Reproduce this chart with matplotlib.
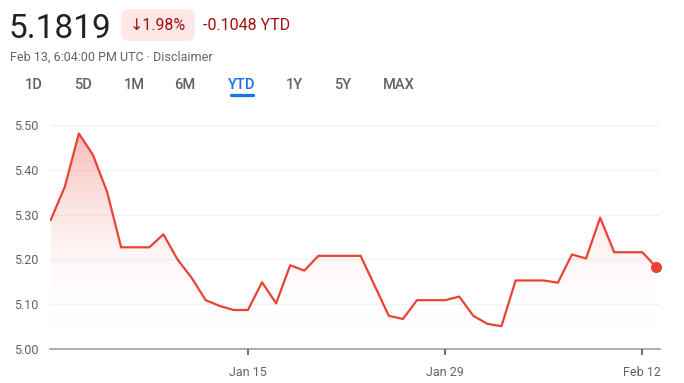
import numpy as np
import pandas as pd
import matplotlib
matplotlib.use("Agg")
import matplotlib.pyplot as plt
from matplotlib.colors import LinearSegmentedColormap
from matplotlib.patches import FancyBboxPatch

# Daily values, Jan 1 .. Feb 13
dates = pd.date_range("2024-01-01", "2024-02-13", freq="D")
values = [5.288, 5.362, 5.481, 5.433, 5.351, 5.227, 5.227, 5.227, 5.256, 5.200,
          5.159, 5.109, 5.096, 5.087, 5.087, 5.149, 5.102, 5.187, 5.175, 5.208,
          5.208, 5.208, 5.208, 5.141, 5.074, 5.067, 5.109, 5.109, 5.109, 5.117,
          5.074, 5.056, 5.051, 5.153, 5.153, 5.153, 5.148, 5.211, 5.202, 5.293,
          5.216, 5.216, 5.216, 5.182]
y_ticks = [5.00, 5.10, 5.20, 5.30, 5.40, 5.50]
x_tick_dates = ["2024-01-15", "2024-01-29", "2024-02-12"]
x_tick_labels = ["Jan 15", "Jan 29", "Feb 12"]
tabs = ["1D", "5D", "1M", "6M", "YTD", "1Y", "5Y", "MAX"]
price = "5.1819"
pct_change = "\u21931.98%"
ytd_change = "-0.1048 YTD"
subtitle = "Feb 13, 6:04:00 PM UTC \u00b7 Disclaimer"

plt.rcParams['font.family'] = ['Roboto', 'DejaVu Sans']

W, H = 684, 383
RED = "#ea4335"
DARKRED = "#a50e0e"
GREY = "#5f6368"
BLUE = "#1a73e8"


def px(x, y):
    return x / W, 1 - y / H


fig = plt.figure(figsize=(W / 100, H / 100), dpi=100)

# ---- header ----
fig.text(*px(9, 38), price, fontsize=24, color="#202124", va="baseline", ha="left")

badge = FancyBboxPatch(px(121, 41), 74 / W, 32 / H,
                       boxstyle="round,pad=0,rounding_size=0.012",
                       transform=fig.transFigure, facecolor="#fce8e6",
                       edgecolor="none", mutation_aspect=W / H)
fig.patches.append(badge)
fig.text(*px(158, 30), pct_change, fontsize=11.5, color=DARKRED,
         va="baseline", ha="center")
fig.text(*px(203, 30), ytd_change, fontsize=11.5, color=DARKRED,
         va="baseline", ha="left")
fig.text(*px(10, 61), subtitle, fontsize=9, color=GREY, va="baseline", ha="left")

tab_x = [34, 83, 134, 185, 242, 294, 343, 399]
for label, x in zip(tabs, tab_x):
    c = BLUE if label == "YTD" else GREY
    fig.text(*px(x, 89), label, fontsize=10.5, color=c, va="baseline",
             ha="center", fontweight="medium")
fig.add_artist(plt.Line2D([231 / W, 253 / W], [1 - 95 / H, 1 - 95 / H],
                          transform=fig.transFigure, color=BLUE, lw=2.4,
                          solid_capstyle="round"))

# ---- chart ----
ax = fig.add_axes([50 / W, 34 / H, 610 / W, 224 / H])
day0 = dates[0]
x = np.array([(d - day0).days for d in dates], dtype=float)
y = np.array(values)

for t in y_ticks[1:]:
    ax.axhline(t, color="#f1f3f4", lw=1, zorder=0)
ax.axhline(5.0, color="#9aa0a6", lw=1.2, zorder=1, clip_on=False)

# gradient fill under the line
poly = ax.fill_between(x, y, 5.0, color="none", lw=0)
cmap = LinearSegmentedColormap.from_list("fade", [(1, 1, 1, 0), (0.93, 0.33, 0.29, 0.4)])
grad = np.linspace(0, 1, 256).reshape(-1, 1)
img = ax.imshow(grad, extent=[x[0], x[-1], 5.04, 5.48], origin="lower",
                aspect="auto", cmap=cmap, zorder=1)
img.set_clip_path(poly.get_paths()[0], transform=ax.transData)
ax.set_xlim(-0.05, 43.25)
ax.set_ylim(5.0, 5.5)

ax.plot(x, y, color=RED, lw=1.6, zorder=3)
ax.plot(x[-1], y[-1], "o", color=RED, ms=8, zorder=4, clip_on=False, mec="none")

for spine in ax.spines.values():
    spine.set_visible(False)

ax.set_yticks(y_ticks)
ax.set_yticklabels([f"{v:.2f}" for v in y_ticks])
tick_x = [(pd.Timestamp(d) - day0).days for d in x_tick_dates]
ax.set_xticks(tick_x)
ax.set_xticklabels(x_tick_labels)
ax.tick_params(axis="y", length=0, pad=8, labelsize=9, labelcolor=GREY)
ax.tick_params(axis="x", length=4, width=1.3, color="#5f6368", pad=8,
               labelsize=9, labelcolor=GREY)

fig.savefig("out.png", dpi=100)
